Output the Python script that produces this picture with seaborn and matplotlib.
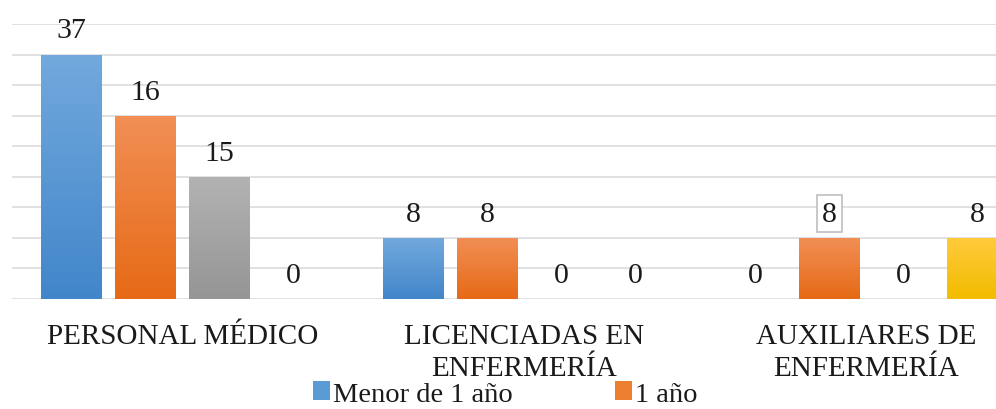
import numpy as np
import pandas as pd
import matplotlib
matplotlib.use("Agg")
import matplotlib.pyplot as plt
import matplotlib.colors as mcolors
from matplotlib.patches import Patch
import seaborn as sns

# ---- data ----
categories = ["PERSONAL MÉDICO", "LICENCIADAS EN\nENFERMERÍA", "AUXILIARES DE\nENFERMERÍA"]
series = ["Menor de 1 año", "1 año", "2 años", "3 años"]
# drawn bar heights (in grid units, as they appear on the chart)
heights_menor = [8, 2, 0]
heights_1 = [6, 2, 2]
heights_2 = [4, 0, 0]
heights_3 = [0, 0, 2]
# data labels printed above the bars
labels_menor = [37, 8, 0]
labels_1 = [16, 8, 8]
labels_2 = [15, 0, 0]
labels_3 = [0, 0, 8]
legend_series = ["Menor de 1 año", "1 año"]

heights = [heights_menor, heights_1, heights_2, heights_3]
labels = [labels_menor, labels_1, labels_2, labels_3]

rows = []
for s, hs in zip(series, heights):
    for c, h in zip(categories, hs):
        rows.append({"cat": c, "serie": s, "h": h})
df = pd.DataFrame(rows)

colors = ["#5B9BD5", "#ED7D31", "#A5A5A5", "#FFC000"]
grad_top = ["#72A9DD", "#F18F55", "#B3B3B3", "#FFCB3C"]
grad_bot = ["#4286CA", "#E66A16", "#959595", "#F2BC00"]

sns.set_theme(style="white")
plt.rcParams["font.family"] = ["Liberation Serif", "DejaVu Serif"]

W, H = 996, 410
fig = plt.figure(figsize=(W / 100, H / 100), dpi=100)
ax_left = 11.5 / W
ax_w = 1026 / W
ax_bottom = 1 - 300 / H
ax_h = 275 / H
ax = fig.add_axes([ax_left, ax_bottom, ax_w, ax_h])

sns.barplot(data=df, x="cat", y="h", hue="serie", order=categories,
            hue_order=series, palette=colors, width=0.8655, gap=0.176,
            legend=False, ax=ax, saturation=1, linewidth=0, zorder=3)

ax.set_xlim(-0.5, 2.5)
ax.set_ylim(0, 9)
ax.set_yticks(np.arange(0, 10))
ax.yaxis.grid(True, color="#D9D9D9", linewidth=1.1, zorder=0)
ax.set_axisbelow(True)
ax.tick_params(axis="y", left=False, labelleft=False)
ax.tick_params(axis="x", bottom=False, pad=11)
for sp in ax.spines.values():
    sp.set_visible(False)
ax.set_xlabel("")
ax.set_ylabel("")
ax.set_xticks(range(len(categories)))
ax.set_xticklabels(categories, fontsize=21, color="#1a1a1a", linespacing=1.33)

# gradients on bars
for i, cont in enumerate(ax.containers):
    cmap = mcolors.LinearSegmentedColormap.from_list("g", [grad_bot[i], grad_top[i]])
    for j, bar in enumerate(cont):
        x0 = bar.get_x()
        w = bar.get_width()
        h = bar.get_height()
        if h > 0:
            grad = np.linspace(0, 1, 100).reshape(-1, 1)
            im = ax.imshow(grad, cmap=cmap, origin="lower", aspect="auto",
                           extent=[x0, x0 + w, 0, h], zorder=4)
            im.set_clip_path(bar)
        txt = str(labels[i][j])
        kw = {}
        if i == 1 and j == 2:
            kw["bbox"] = dict(boxstyle="square,pad=0.18", facecolor="white",
                              edgecolor="#BFBFBF", linewidth=1.2)
        ax.annotate(txt, (x0 + w / 2, h), xytext=(0, 12.3), textcoords="offset points",
                    ha="center", va="baseline", fontsize=21.5, color="#1a1a1a",
                    annotation_clip=False, zorder=6, **kw)
ax.set_xlim(-0.5, 2.5)
ax.set_ylim(0, 9)

handles = [Patch(facecolor=colors[series.index(s)], edgecolor="none") for s in legend_series]
fig.legend(handles, legend_series, loc="center", bbox_to_anchor=(505.5 / W, 1 - 395 / H),
           ncol=2, frameon=False, fontsize=20.5, handlelength=0.6, handleheight=0.6,
           handletextpad=0.1, columnspacing=3.6, borderpad=0, labelcolor="#1a1a1a")

fig.savefig("out.png", dpi=100)
